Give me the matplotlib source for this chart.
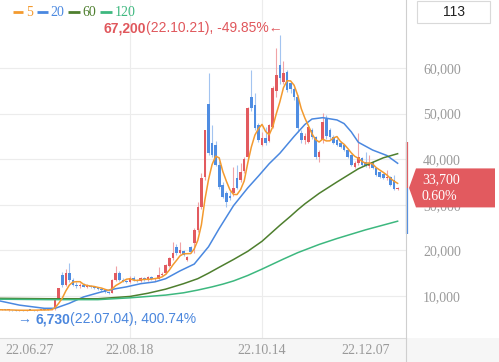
import matplotlib
matplotlib.use("Agg")
import matplotlib.pyplot as plt
import matplotlib.transforms as mtransforms
from matplotlib.patches import Polygon, Rectangle
from matplotlib.lines import Line2D
import numpy as np
import pandas as pd

W, H = 499, 362

# trading days 22.06.27 ~ 22.12.07 (KRX holidays removed) -> 113 candles
krx_holidays = ["2022-08-15", "2022-09-09", "2022-09-12", "2022-10-03", "2022-10-10"]
dates = pd.bdate_range("2022-06-27", "2022-12-07", freq="C", holidays=krx_holidays)

opens = [7000, 6950, 7000, 6900, 6950, 6850, 6800, 6900, 6850, 6950,
         6900, 6850, 6950, 7000, 6950, 7000, 7050, 9500, 14500, 12500,
         15000, 13500, 12500, 12200, 12500, 12000, 12300, 11900, 11700, 11500,
         11300, 10900, 10700, 13500, 15000, 13600, 13300, 13000, 14000, 13500,
         13200, 14000, 13500, 14100, 13700, 13800, 14500, 15000, 16500, 18300,
         20700, 19400, 19800, 17900, 20800, 21600, 24500, 29500, 36000, 52100,
         43600, 43100, 38700, 34300, 32600, 32000, 32600, 35800, 35400, 37500,
         40500, 53600, 51900, 47500, 43000, 44700, 44000, 47000, 55000, 60700,
         57000, 59100, 56700, 55400, 53700, 45700, 44200, 43800, 46400, 44800,
         40500, 44200, 48800, 46500, 44900, 44300, 43600, 43000, 42000, 41000,
         38300, 39200, 40200, 39400, 38500, 39400, 38000, 37200, 36800, 35800,
         36100, 35400, 33400]
highs = [7150, 7050, 7050, 7000, 7000, 6950, 6950, 7000, 7000, 7050,
         7000, 7000, 7100, 7150, 7050, 7200, 9150, 11850, 15200, 16000,
         17200, 14000, 13000, 12800, 12800, 12600, 12500, 12300, 12000, 11800,
         11500, 11100, 13800, 16500, 15400, 14000, 13600, 14300, 14300, 13800,
         14200, 14200, 14300, 14300, 14000, 16400, 15200, 17000, 18600, 21800,
         21500, 21800, 20000, 18700, 21000, 24800, 30600, 37000, 46500, 58900,
         47500, 44000, 39500, 35000, 33000, 33000, 38300, 38700, 39200, 40500,
         51500, 59600, 54500, 48000, 46000, 47000, 47800, 56000, 64400, 67200,
         61500, 59500, 57000, 55800, 54000, 46500, 45800, 47300, 46800, 45000,
         42000, 50100, 49700, 46800, 45200, 44600, 43900, 43200, 42200, 41200,
         39500, 45700, 40500, 41600, 41000, 39600, 38200, 37400, 37000, 37600,
         36300, 36500, 34000]
lows = [6900, 6850, 6850, 6800, 6800, 6730, 6750, 6800, 6800, 6850,
        6800, 6800, 6850, 6900, 6850, 6900, 7000, 9300, 12000, 12200,
        13000, 12200, 11800, 11800, 11900, 11700, 11700, 11500, 11300, 11000,
        10700, 10500, 10600, 13200, 13300, 13000, 12800, 12900, 13200, 13000,
        13100, 13300, 13300, 13500, 13300, 13700, 14300, 14800, 16300, 18000,
        19000, 19200, 18800, 17700, 19400, 19500, 24000, 29000, 35500, 41000,
        40500, 38500, 33500, 31500, 29500, 31000, 32000, 33500, 35000, 37000,
        40000, 50500, 46500, 43800, 42800, 43000, 43700, 46800, 53600, 56500,
        56500, 54800, 54500, 53000, 46000, 43500, 43300, 43500, 44500, 40000,
        39400, 43500, 44500, 44500, 43300, 42900, 42500, 41800, 40300, 38500,
        38000, 38800, 38500, 38300, 38000, 37800, 36300, 35900, 35700, 35500,
        34100, 33200, 33200]
closes = [6950, 7000, 6900, 6950, 6850, 6800, 6900, 6850, 6950, 6900,
          6850, 6950, 7000, 6950, 7000, 7050, 9150, 11800, 12500, 15000,
          13500, 12500, 12200, 12500, 12000, 12300, 11900, 11700, 11500, 11300,
          10900, 10700, 13500, 15000, 13600, 13300, 13000, 14000, 13500, 13200,
          14000, 13500, 14100, 13700, 13800, 14500, 14900, 16800, 18300, 19500,
          19400, 20000, 19000, 18500, 19600, 24500, 29500, 35800, 46500, 41300,
          41000, 38700, 33900, 31700, 30600, 31500, 33700, 33700, 37200, 40000,
          51200, 51200, 46800, 44200, 44700, 43500, 47500, 55600, 58500, 57800,
          58900, 55200, 55400, 53700, 46800, 44200, 45000, 47000, 44800, 40500,
          41500, 48200, 45000, 44900, 43600, 43100, 42700, 42000, 40500, 38700,
          39200, 40500, 38700, 38500, 39000, 38000, 36500, 36100, 35900, 36100,
          34300, 33500, 33700]

# longer moving averages (candle index, price)
ma20_idx = [0, 6, 13, 16, 20, 24, 29, 33, 36, 40, 44, 47, 51, 55, 59, 62,
            66, 70, 73, 76, 79, 83, 86, 88, 91, 95, 97, 99, 101, 105, 109, 112]
ma20_val = [9000, 8000, 7300, 7300, 8400, 9800, 10900, 11600, 12000, 12700,
            13100, 13800, 15500, 17000, 20800, 24800, 29800, 33700, 36300,
            39000, 41300, 45000, 47600, 48800, 49100, 48600, 47800, 46000,
            43700, 42000, 40800, 39100]
ma60_idx = [0, 14, 28, 37, 42, 47, 52, 56, 59, 62, 66, 70, 74, 77, 79, 82,
            84, 86, 90, 95, 101, 105, 108, 112]
ma60_val = [9500, 9400, 9400, 9900, 10600, 11500, 12700, 13800, 15000, 16300,
            18000, 19800, 22000, 24100, 25500, 27500, 28900, 30200, 32500,
            35000, 37900, 39300, 40300, 41200]
ma120_idx = [0, 14, 28, 37, 42, 47, 52, 56, 60, 63, 66, 70, 74, 77, 80, 84,
             90, 95, 103, 112]
ma120_val = [9300, 9200, 9200, 9600, 9900, 10200, 10700, 11300, 12000, 12600,
             13300, 14500, 15900, 17000, 18100, 19500, 21300, 22600, 24500, 26400]

ma_periods = ["5", "20", "60", "120"]
ma_colors = ["#f39a2f", "#4a88e0", "#4e7f2e", "#3db87f"]
RED, BLUE = "#e25a5f", "#4f8de2"
RED_W, BLUE_W = "#f0a3a6", "#a3c4f0"
SERIF = ["Liberation Serif", "DejaVu Serif"]
SANS = ["Liberation Sans", "DejaVu Sans"]

o, h, l, c = (np.array(v, dtype=float) for v in (opens, highs, lows, closes))
x = np.arange(len(c))
ma5 = pd.Series(c).rolling(5, min_periods=1).mean()

fig = plt.figure(figsize=(W / 100, H / 100), dpi=100)
fig.patch.set_facecolor("white")
ax = fig.add_axes([0, 24 / H, 406 / W, 338 / H])
ax.set_xlim(0.56, 114.35)
ax.set_ylim(790, 74900)
for s in ax.spines.values():
    s.set_visible(False)

yt = list(range(10000, 70000, 10000))
ax.set_yticks(yt)
ax.set_yticklabels([f"{v:,}" for v in yt], fontfamily=SERIF)
ax.yaxis.tick_right()
ax.tick_params(axis="y", length=0, pad=12.3, labelsize=10, labelcolor="#9a9a9a")
ax.set_xticks([37, 74])
ax.tick_params(axis="x", length=0, labelbottom=False)
ax.grid(True, color="#ececec", lw=0.8)
ax.set_axisbelow(True)

# candles
up = c >= o
ax.vlines(x, l, h, colors=np.where(up, RED_W, BLUE_W), lw=0.8, zorder=2)
ax.bar(x, np.maximum(np.abs(c - o), 180), bottom=np.minimum(o, c), width=0.72,
       color=np.where(up, RED, BLUE), linewidth=0, zorder=3)

# moving averages
ax.plot(x, ma5, color=ma_colors[0], lw=1.1, zorder=5)
ax.plot(ma20_idx, ma20_val, color=ma_colors[1], lw=1.1, zorder=4)
ax.plot(ma60_idx, ma60_val, color=ma_colors[2], lw=1.1, zorder=4)
ax.plot(ma120_idx, ma120_val, color=ma_colors[3], lw=1.1, zorder=4)

# price limit band at the right edge
trans = mtransforms.blended_transform_factory(ax.transAxes, ax.transData)
xb = 1 + 1.2 / 406
ax.plot([xb, xb], [c[-1], c[-1] * 1.3], transform=trans, color=RED, lw=1.6,
        clip_on=False, solid_capstyle="butt", zorder=6)
ax.plot([xb, xb], [c[-1] * 0.7, c[-1]], transform=trans, color=BLUE, lw=1.6,
        clip_on=False, solid_capstyle="butt", zorder=6)

# frame pieces
fig.add_artist(Rectangle((0, 0), 1, 24 / H, transform=fig.transFigure,
                         fc="#f6f6f6", ec="none", zorder=1))
fig.add_artist(Line2D([0, 406 / W], [24 / H, 24 / H], transform=fig.transFigure,
                      color="#dcdcdc", lw=0.8, zorder=2))
fig.add_artist(Line2D([406 / W, 406 / W], [0, 1], transform=fig.transFigure,
                      color="#cfcfcf", lw=0.8, zorder=2))

# x labels (first and last pushed inside the frame)
ylab = 1 - 350 / H
lab = [d.strftime("%y.%m.%d") for d in dates]
kw = dict(fontsize=10, color="#9a9a9a", family=SERIF, va="center", zorder=4)
fig.text(5 / W, ylab, lab[0], ha="left", **kw)
for i in (37, 74):
    xf = fig.transFigure.inverted().transform(ax.transData.transform((i, 0)))[0]
    fig.text(xf, ylab, lab[i], ha="center", **kw)
fig.text(390 / W, ylab, lab[-1], ha="right", **kw)

# legend
ly = 1 - 12 / H
for (x0, x1, tx), p, col in zip([(13, 23, 26), (37, 48, 50), (68, 80, 82), (100, 112, 115)],
                                ma_periods, ma_colors):
    fig.add_artist(Line2D([x0 / W, x1 / W], [ly, ly], transform=fig.transFigure,
                          color=col, lw=2, solid_capstyle="butt"))
    fig.text(tx / W, ly, p, color=col, fontsize=10, family=SERIF, va="center", ha="left")

# high / low notes
ih, il = int(np.argmax(h)), int(np.argmin(l))
hi_col, lo_col = "#e0575c", "#4a86dd"
t2 = ax.annotate(f"({lab[ih]}), {(c[-1] / h[ih] - 1) * 100:.2f}%\u2190", xy=(ih, h[ih]),
                 xytext=(2.2, 5), textcoords="offset points", ha="right", va="center",
                 fontsize=10, color=hi_col, family=SANS, zorder=7)
ax.annotate(f"{int(h[ih]):,}", xy=(0, 0.5), xycoords=t2, ha="right", va="center",
            fontsize=10, color=hi_col, family=SANS, fontweight="bold", zorder=7)

b1 = ax.annotate("\u2192 ", xy=(il, l[il]), xytext=(1.2, -6), textcoords="offset points",
                 ha="left", va="center", fontsize=10, color=lo_col, family=SANS, zorder=7)
b2 = ax.annotate(f"{int(l[il]):,}", xy=(1, 0.5), xycoords=b1, ha="left", va="center",
                 fontsize=10, color=lo_col, family=SANS, fontweight="bold", zorder=7)
ax.annotate(f"({lab[il]}), {(c[-1] / l[il] - 1) * 100:.2f}%", xy=(1, 0.5), xycoords=b2,
            ha="left", va="center", fontsize=10, color=lo_col, family=SANS, zorder=7)

# candle count box
fig.add_artist(Rectangle((417 / W, 1 - 23 / H), 73 / W, 22 / H, transform=fig.transFigure,
                         fc="white", ec="#d9d9d9", lw=0.8, zorder=3))
fig.text(453.5 / W, 1 - 12 / H, str(len(c)), ha="center", va="center", fontsize=10,
         color="#222222", family=SANS, zorder=4)

# current price tag
yc = H - ax.transData.transform((0, c[-1]))[1]
pts = [(409, yc), (416, yc - 19.5), (495, yc - 19.5), (495, yc + 19.5), (416, yc + 19.5)]
fig.add_artist(Polygon([(px / W, 1 - py / H) for px, py in pts], closed=True,
                       transform=fig.transFigure, fc=RED, ec="none", zorder=3))
fig.text(422 / W, 1 - (yc - 8) / H, f"{int(c[-1]):,}", color="white", fontsize=10,
         family=SERIF, va="center", ha="left", zorder=4)
fig.text(422 / W, 1 - (yc + 9) / H, f"{(c[-1] / c[-2] - 1) * 100:.2f}%", color="white",
         fontsize=10, family=SERIF, va="center", ha="left", zorder=4)

fig.savefig("out.png", dpi=100)
